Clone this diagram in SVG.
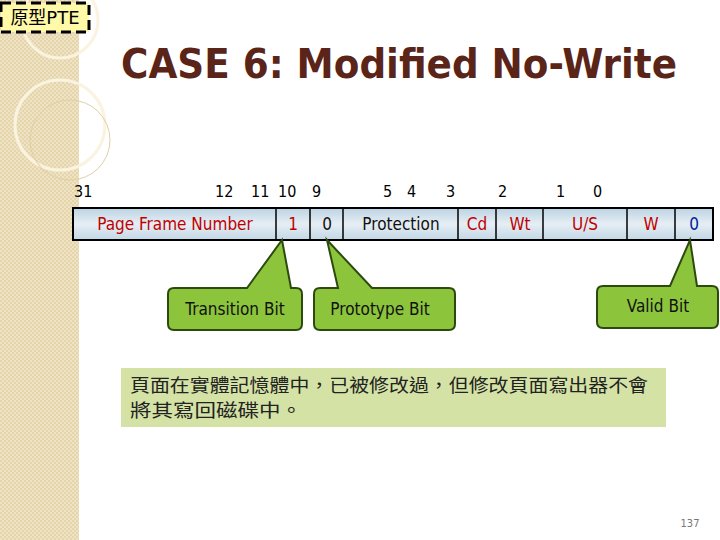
<svg xmlns="http://www.w3.org/2000/svg" width="720" height="540" viewBox="0 0 720 540">
<defs>
<pattern id="chk" width="4" height="4" patternUnits="userSpaceOnUse"><rect width="4" height="4" fill="#efe3c4"/><rect width="2" height="2" fill="#e5d5ad"/><rect x="2" y="2" width="2" height="2" fill="#e5d5ad"/></pattern>
<linearGradient id="cell" x1="0" y1="0" x2="0" y2="1"><stop offset="0" stop-color="#bcd3e3"/><stop offset="0.5" stop-color="#e6eef4"/><stop offset="1" stop-color="#c2d7e6"/></linearGradient>
</defs>
<style>
text{font-family:"DejaVu Sans Condensed","DejaVu Sans",sans-serif}
.num{font-size:16px;fill:#000}
.cell{font-size:17px;text-anchor:middle}
.r{fill:#c00000}.k{fill:#111}.b{fill:#0020a0}
.call{fill:#8cc43c;stroke:#2d4a0e;stroke-width:2}
.ct{font-size:17px;fill:#111;text-anchor:middle}
.div{stroke:#000;stroke-width:1.5}
</style>
<rect width="720" height="540" fill="#fff"/>
<g id="background">
<rect x="0" y="0" width="79" height="540" fill="url(#chk)"/>
<circle cx="60" cy="20" r="38" fill="none" stroke="#faf3e0" stroke-width="3"/>
<circle cx="60" cy="125" r="45" fill="none" stroke="#faf3e0" stroke-width="3"/>
<circle cx="70" cy="140" r="40" fill="none" stroke="#e0cfa6" stroke-width="1"/>
</g>
<g id="tag">
<rect x="1" y="3" width="88" height="29" fill="#fff9a8" stroke="#000" stroke-width="3" stroke-dasharray="10,5"/>
<text x="45" y="24" font-size="18" text-anchor="middle" style="font-family:'DejaVu Sans','Noto Sans CJK TC',sans-serif">原型PTE</text>
</g>
<text id="title" x="399" y="78" font-size="40" font-weight="bold" fill="#5a2418" text-anchor="middle" textLength="556" lengthAdjust="spacingAndGlyphs" style="font-family:'DejaVu Sans Condensed',sans-serif">CASE 6: Modified No-Write</text>
<g id="bitnumbers">
<text class="num" x="74" y="197">31</text><text class="num" x="215" y="197">12</text><text class="num" x="251" y="197">11</text><text class="num" x="278" y="197">10</text><text class="num" x="312" y="197">9</text><text class="num" x="383" y="197">5</text><text class="num" x="407" y="197">4</text><text class="num" x="446" y="197">3</text><text class="num" x="498" y="197">2</text><text class="num" x="556" y="197">1</text><text class="num" x="593" y="197">0</text>
</g>
<g id="register">
<rect x="73" y="208" width="640" height="32" fill="url(#cell)" stroke="#000" stroke-width="2"/>
<line class="div" x1="276" y1="208" x2="276" y2="240"/><line class="div" x1="310" y1="208" x2="310" y2="240"/><line class="div" x1="343" y1="208" x2="343" y2="240"/><line class="div" x1="458" y1="208" x2="458" y2="240"/><line class="div" x1="496" y1="208" x2="496" y2="240"/><line class="div" x1="543" y1="208" x2="543" y2="240"/><line class="div" x1="627" y1="208" x2="627" y2="240"/><line class="div" x1="675" y1="208" x2="675" y2="240"/>
<text class="cell r" x="175" y="230">Page Frame Number</text>
<text class="cell r" x="293" y="230">1</text>
<text class="cell k" x="327" y="230">0</text>
<text class="cell k" x="401" y="230">Protection</text>
<text class="cell r" x="477" y="230">Cd</text>
<text class="cell r" x="520" y="230">Wt</text>
<text class="cell r" x="585" y="230">U/S</text>
<text class="cell r" x="651" y="230">W</text>
<text class="cell b" x="694" y="230">0</text>
</g>
<g id="transition">
<path class="call" d="M174 288 H247 L282 240 L291 288 H296 Q302 288 302 294 V324 Q302 330 296 330 H174 Q168 330 168 324 V294 Q168 288 174 288 Z"/>
<text class="ct" x="235" y="315">Transition Bit</text>
</g>
<g id="prototype">
<path class="call" d="M320 288 H338 L327 240 L372 288 H449 Q455 288 455 294 V324 Q455 330 449 330 H320 Q314 330 314 324 V294 Q314 288 320 288 Z"/>
<text class="ct" x="380" y="315">Prototype Bit</text>
</g>
<g id="valid">
<path class="call" d="M603 286 H670 L690 240 L697 286 H712 Q718 286 718 292 V322 Q718 328 712 328 H603 Q597 328 597 322 V292 Q597 286 603 286 Z"/>
<text class="ct" x="658" y="312">Valid Bit</text>
</g>
<g id="note">
<rect x="121" y="368" width="545" height="59" fill="#d4e3a5"/>
<text x="130" y="392" font-size="18" fill="#222" textLength="518" lengthAdjust="spacingAndGlyphs" style="font-family:'Noto Sans CJK TC',sans-serif">頁面在實體記憶體中，已被修改過，但修改頁面寫出器不會</text>
<text x="130" y="417" font-size="18" fill="#222" textLength="172" lengthAdjust="spacingAndGlyphs" style="font-family:'Noto Sans CJK TC',sans-serif">將其寫回磁碟中。</text>
</g>
<text x="690" y="527" font-size="11" fill="#777" text-anchor="middle">137</text>
</svg>
